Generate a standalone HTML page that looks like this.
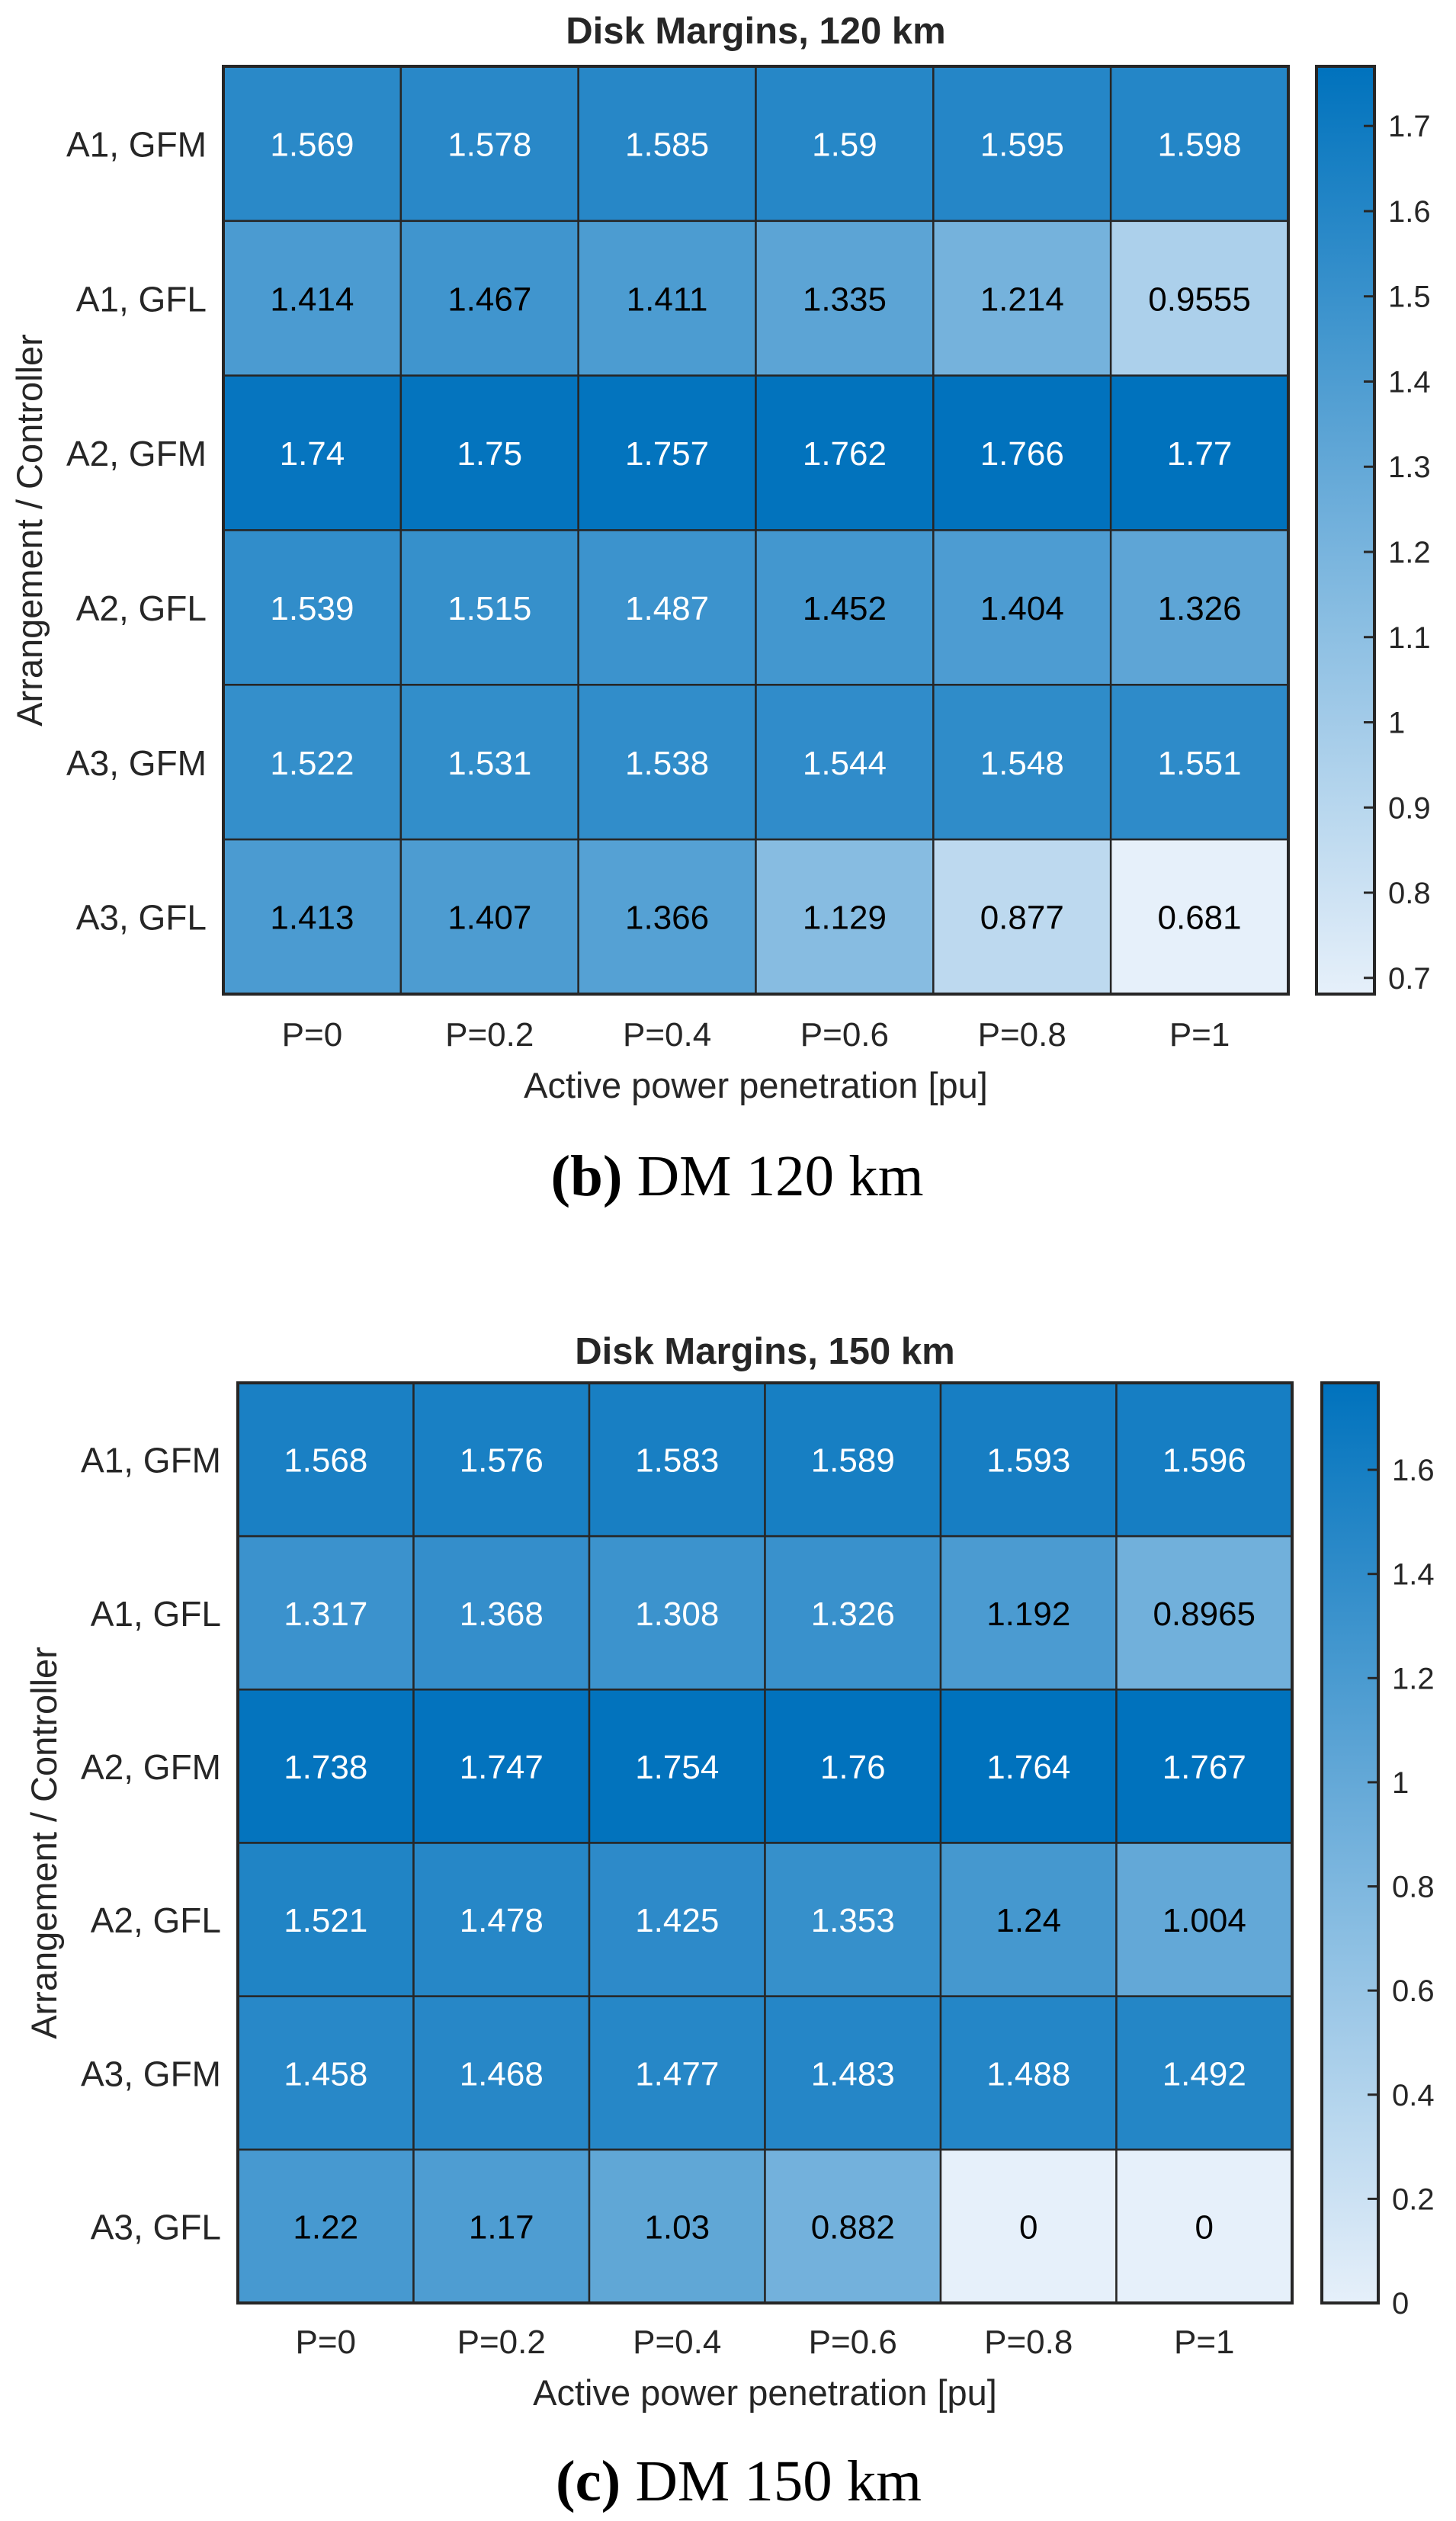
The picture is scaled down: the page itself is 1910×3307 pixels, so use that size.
<!DOCTYPE html>
<html><head><meta charset="utf-8"><style>
html,body{margin:0;padding:0;background:#fff;}
svg{display:block;}
</style></head><body>
<svg id="fig" width="1910" height="3307" viewBox="0 0 1910 3307" xmlns="http://www.w3.org/2000/svg" font-family="'Liberation Sans', Arial, sans-serif"></svg>
<script>
const rowLabels = ["A1, GFM","A1, GFL","A2, GFM","A2, GFL","A3, GFM","A3, GFL"];
const colLabels = ["P=0","P=0.2","P=0.4","P=0.6","P=0.8","P=1"];
const values120 = [
  [1.569,1.578,1.585,1.59,1.595,1.598],
  [1.414,1.467,1.411,1.335,1.214,0.9555],
  [1.74,1.75,1.757,1.762,1.766,1.77],
  [1.539,1.515,1.487,1.452,1.404,1.326],
  [1.522,1.531,1.538,1.544,1.548,1.551],
  [1.413,1.407,1.366,1.129,0.877,0.681]
];
const values150 = [
  [1.568,1.576,1.583,1.589,1.593,1.596],
  [1.317,1.368,1.308,1.326,1.192,0.8965],
  [1.738,1.747,1.754,1.76,1.764,1.767],
  [1.521,1.478,1.425,1.353,1.24,1.004],
  [1.458,1.468,1.477,1.483,1.488,1.492],
  [1.22,1.17,1.03,0.882,0,0]
];
const cbTicks120 = [0.7,0.8,0.9,1,1.1,1.2,1.3,1.4,1.5,1.6,1.7];
const cbTicks150 = [0,0.2,0.4,0.6,0.8,1,1.2,1.4,1.6];

const NS = "http://www.w3.org/2000/svg";
const svg = document.getElementById('fig');
function mk(tag, attrs, parent){
  const e = document.createElementNS(NS, tag);
  for (const k in attrs) e.setAttribute(k, attrs[k]);
  (parent||svg).appendChild(e);
  return e;
}
const lo=[230,240,250], hi=[0,114,189];
function cmap(t){
  t=Math.max(0,Math.min(1,t));
  return 'rgb('+lo.map((c,i)=>Math.round(c+(hi[i]-c)*t)).join(',')+')';
}
function fmt(v){ return String(v); }

function drawChart(cfg){
  const g = mk('g',{});
  
  
  const vals = cfg.values;
  const flat = vals.flat();
  const vmin = Math.min(...flat), vmax = Math.max(...flat);
  const nR = rowLabels.length, nC = colLabels.length;
  const cw = (cfg.x1-cfg.x0)/nC, ch = (cfg.y1-cfg.y0)/nR;
  const xs = c => cfg.x0 + c*cw;
  const ys = r => cfg.y0 + r*ch;
  const t = mk('text',{x:(cfg.x0+cfg.x1)/2, y:cfg.titleY, 'text-anchor':'middle','font-size':49,'font-weight':'bold',fill:'#262626'},g);
  t.textContent = cfg.title;
  
  
  for(let r=0;r<nR;r++){
    for(let c=0;c<nC;c++){
      const v = vals[r][c];
      const tt = (v-vmin)/(vmax-vmin);
      const rect = mk('rect',{x:xs(c),y:ys(r),width:cw,height:ch,fill:cmap(tt),stroke:'#262626','stroke-width':2.5},g);
      
      
      const tx = mk('text',{x:xs(c)+cw/2,y:ys(r)+ch/2+16,'text-anchor':'middle','font-size':44,fill: tt>0.73?'#ffffff':'#000000'},g);
      tx.textContent = fmt(v);
      
      
    }
  }
  const frame = mk('rect',{x:cfg.x0,y:cfg.y0,width:cfg.x1-cfg.x0,height:cfg.y1-cfg.y0,fill:'none',stroke:'#262626','stroke-width':4},g);
  
  
  for(let r=0;r<nR;r++){
    const l = mk('text',{x:cfg.ylabRight,y:ys(r)+ch/2+17,'text-anchor':'end','font-size':46,fill:'#262626'},g);
    l.textContent = rowLabels[r];
    
    
  }
  for(let c=0;c<nC;c++){
    const l = mk('text',{x:xs(c)+cw/2,y:cfg.xtickY,'text-anchor':'middle','font-size':44,fill:'#262626'},g);
    l.textContent = colLabels[c];
    
    
  }
  const xl = mk('text',{x:(cfg.x0+cfg.x1)/2,y:cfg.xlabY,'text-anchor':'middle','font-size':47,fill:'#262626'},g);
  xl.textContent = 'Active power penetration [pu]';
  
  
  const cy = (cfg.y0+cfg.y1)/2;
  const yl = mk('text',{x:cfg.ylabX,y:cy,'text-anchor':'middle','font-size':47,fill:'#262626',transform:'rotate(-90 '+cfg.ylabX+' '+cy+')'},g);
  yl.textContent = 'Arrangement / Controller';
  
  
  const gradId = 'grad-'+cfg.name;
  const defs = mk('defs',{},g);
  const lg = mk('linearGradient',{id:gradId,x1:0,y1:1,x2:0,y2:0},defs);
  for(let i=0;i<=10;i++){ mk('stop',{offset:(i/10),'stop-color':cmap(i/10)},lg); }
  const cb = mk('rect',{x:cfg.cbx0,y:cfg.y0,width:cfg.cbx1-cfg.cbx0,height:cfg.y1-cfg.y0,fill:'url(#'+gradId+')',stroke:'#262626','stroke-width':4},g);
  
  
  const cbY = v => cfg.y1 - (v-vmin)/(vmax-vmin)*(cfg.y1-cfg.y0);
  cfg.ticks.forEach(v=>{
    const y = cbY(v);
    const tk = mk('line',{x1:cfg.cbx1-14,x2:cfg.cbx1,y1:y,y2:y,stroke:'#262626','stroke-width':3},g);
    
    
    const tl = mk('text',{x:cfg.cbx1+18,y:y+14,'font-size':40,fill:'#262626'},g);
    tl.textContent = String(v);
    
    
  });
  const cap = mk('text',{x:cfg.capX,y:cfg.capY,'text-anchor':'middle','font-size':76,'font-family':"'Liberation Serif', 'Times New Roman', serif",fill:'#000',textLength:cfg.capW,lengthAdjust:'spacingAndGlyphs'},g);
  
  
  const b = document.createElementNS(NS,'tspan'); b.setAttribute('font-weight','bold'); b.textContent = cfg.capLetter;
  cap.appendChild(b);
  cap.appendChild(document.createTextNode(' '+cfg.capText));
}

drawChart({name:'heatmap-120km',values:values120,ticks:cbTicks120,title:'Disk Margins, 120 km',
  x0:293,x1:1690,y0:87,y1:1304,cbx0:1727,cbx1:1803,titleY:57,ylabRight:271,xtickY:1372,xlabY:1440,ylabX:55,
  capX:967,capY:1568,capW:489,capLetter:'(b)',capText:'DM 120 km'});
drawChart({name:'heatmap-150km',values:values150,ticks:cbTicks150,title:'Disk Margins, 150 km',
  x0:312,x1:1695,y0:1814,y1:3021,cbx0:1734,cbx1:1808,titleY:1789,ylabRight:290,xtickY:3087,xlabY:3155,ylabX:74,
  capX:969,capY:3280,capW:480,capLetter:'(c)',capText:'DM 150 km'});
</script>
</body></html>
